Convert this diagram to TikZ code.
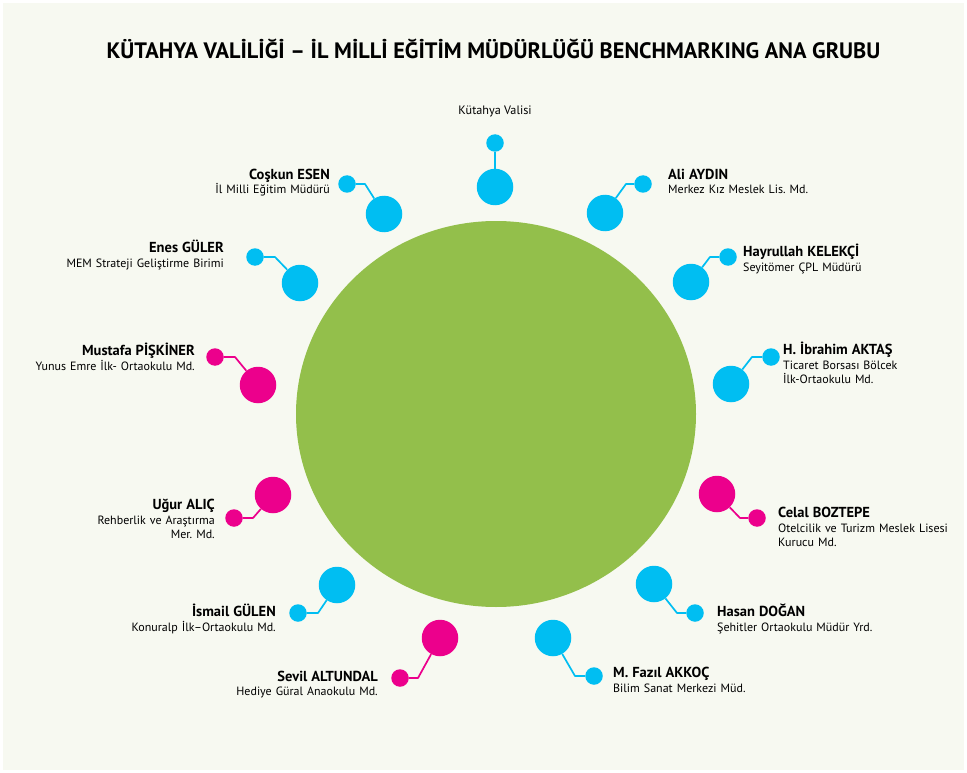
\documentclass[tikz,border=0pt]{standalone}
\usepackage{fontspec}
\setmainfont{PT Sans}
\usetikzlibrary{positioning}
\definecolor{DotBlue}{RGB}{0,190,242}
\definecolor{DotPink}{RGB}{236,0,140}
\definecolor{HubGreen}{RGB}{147,191,75}
\definecolor{PaperBg}{RGB}{247,249,241}
\frenchspacing
\newcommand{\pname}[1]{{\fontsize{14.5}{14.5}\selectfont\bfseries #1}}
\tikzset{
  big/.style={circle,inner sep=0pt,minimum size=36.5pt},
  small/.style={circle,inner sep=0pt,minimum size=17.5pt},
  stem/.style={line width=1.7pt,line join=round},
  lblL/.style={anchor=base east,inner sep=0pt,text width=7cm,align=right,
    font=\fontsize{12}{14.5}\selectfont},
  lblR/.style={anchor=base west,inner sep=0pt,text width=7cm,align=left,
    font=\fontsize{12}{14.5}\selectfont},
  ttl/.style={anchor=base,inner sep=0pt,font=\fontsize{22.3}{24}\selectfont\bfseries},
}

\begin{document}
\begin{tikzpicture}[x=1pt,y=-1pt]
  \useasboundingbox (0,0) rectangle (967,773);
  \fill[white] (0,0) rectangle (967,773);
  \fill[PaperBg] (3,3) rectangle (964,770);

  \node[ttl] (title) at (493.5,59)
    {KÜTAHYA VALİLİĞİ – İL MİLLİ EĞİTİM MÜDÜRLÜĞÜ BENCHMARKING ANA GRUBU};

  % center disc
  \fill[HubGreen] (496,414) ellipse [x radius=200, y radius=193];

  % satellites: id / big / elbow / small / colour
  \foreach \k/\bx/\by/\ex/\ey/\sx/\sy/\c in {
      1/495/187/495/165/495/143/DotBlue,
      2/384/214/365/184/347/184/DotBlue,
      3/605/213/626/184/643/184/DotBlue,
      4/300/283/275/257/255/257/DotBlue,
      5/691/282/710/257/728/257/DotBlue,
      6/258/385/235/357/215/357/DotPink,
      7/731/384/752/357/771/357/DotBlue,
      8/273/495/253/518/234/518/DotPink,
      9/717/494/740/518/757/518/DotPink,
      10/337/585/318/613/298/613/DotBlue,
      11/654/584/677/613/695/613/DotBlue,
      12/440/638/418/678/400/678/DotPink,
      13/553/638/575/676/594/676/DotBlue}
  {
    \node[big,fill=\c] (b\k) at (\bx,\by) {};
    \node[small,fill=\c] (s\k) at (\sx,\sy) {};
    \coordinate (e\k) at (\ex,\ey);
    \draw[stem,draw=\c] (s\k) -- (e\k) -- (b\k);
  }

  % labels
  \node[anchor=base,inner sep=0pt,font=\fontsize{12.2}{14}\selectfont] (t1) at (495,115) {Kütahya Valisi};
  \node[lblL] (t2) at (330,179) {\pname{Coşkun ESEN}\\İl Milli Eğitim Müdürü};
  \node[lblR] (t3) at (668,179) {\pname{Ali AYDIN}\\Merkez Kız Meslek Lis. Md.};
  \node[lblL] (t4) at (224,252.5) {\pname{Enes GÜLER}\\MEM Strateji Geliştirme Birimi};
  \node[lblR] (t5) at (743,256.5) {\pname{Hayrullah KELEKÇİ}\\Seyitömer ÇPL Müdürü};
  \node[lblL] (t6) at (195,355.5) {\pname{Mustafa PİŞKİNER}\\Yunus Emre İlk- Ortaokulu Md.};
  \node[lblR] (t7) at (783,354.5) {\pname{H. İbrahim AKTAŞ}\\Ticaret Borsası Bölcek\\İlk-Ortaokulu Md.};
  \node[lblL] (t8) at (215,509.5) {\pname{Uğur ALIÇ}\\Rehberlik ve Araştırma\\Mer. Md.};
  \node[lblR] (t9) at (778,517.5) {\pname{Celal BOZTEPE}\\Otelcilik ve Turizm Meslek Lisesi\\Kurucu Md.};
  \node[lblL] (t10) at (276,616.5) {\pname{İsmail GÜLEN}\\Konuralp İlk–Ortaokulu Md.};
  \node[lblR] (t11) at (717,616.5) {\pname{Hasan DOĞAN}\\Şehitler Ortaokulu Müdür Yrd.};
  \node[lblL] (t12) at (378,681) {\pname{Sevil ALTUNDAL}\\Hediye Güral Anaokulu Md.};
  \node[lblR] (t13) at (613,677.5) {\pname{M. Fazıl AKKOÇ}\\Bilim Sanat Merkezi Müd.};
\end{tikzpicture}
\end{document}
